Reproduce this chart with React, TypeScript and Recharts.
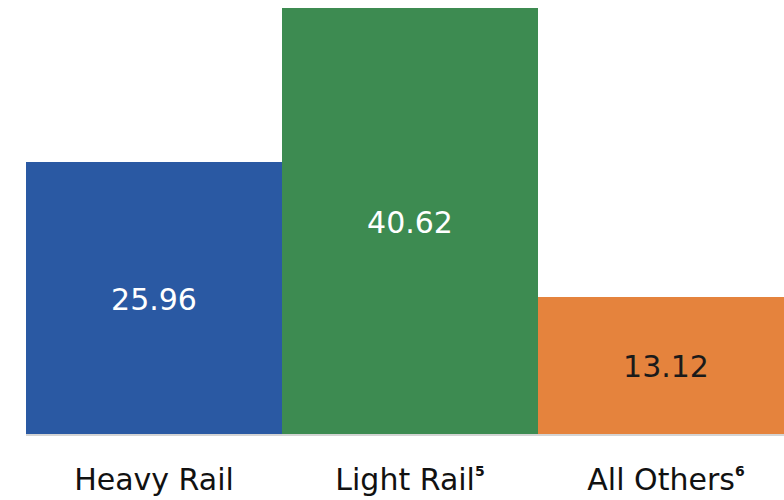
import React from 'react';
import { BarChart, Bar, XAxis, YAxis, Cell, LabelList } from 'recharts';

// categories, values, footnote marks
const categories = ['Heavy Rail', 'Light Rail', 'All Others'];
const footnotes = ['', '5', '6'];
const values = [25.96, 40.62, 13.12];
const barColors = ['#2A59A3', '#3D8B51', '#E5833D'];
const labelColors = ['#ffffff', '#ffffff', '#1a1a1a'];

const chartData = categories.map((name, i) => ({ name, value: values[i] }));

const FONT = '"DejaVu Sans", sans-serif';

const CategoryTick = (props: any) => {
    const { x, y, payload, index } = props;
    const sup = footnotes[index] || '';
    return (
        <text x={x} y={y + 55} textAnchor="middle" fill="#111" fontFamily={FONT} fontSize={30}>
            {payload.value}
            {sup && (
                <tspan fontSize={14} fontWeight="bold" dy={-14}>
                    {sup}
                </tspan>
            )}
        </text>
    );
};

const ValueLabel = (props: any) => {
    const { x, y, width, height, value, index } = props;
    return (
        <text
            x={x + width / 2}
            y={y + height / 2 + 11}
            textAnchor="middle"
            fill={labelColors[index]}
            fontFamily={FONT}
            fontSize={30}
        >
            {value.toFixed(2)}
        </text>
    );
};

export default function App() {
    return (
        <div
            style={{
                position: 'fixed',
                top: 0,
                left: 0,
                width: 784,
                height: 500,
                overflow: 'hidden',
                background: '#fff',
            }}
        >
            <BarChart
                width={794}
                height={500}
                data={chartData}
                margin={{ top: 8, right: 0, left: 26, bottom: 0 }}
                barCategoryGap={0}
            >
                <YAxis hide domain={[0, 40.62]} />
                <XAxis
                    dataKey="name"
                    height={65}
                    tickSize={0}
                    tickMargin={0}
                    tickLine={false}
                    axisLine={{ stroke: '#d4d4d4', strokeWidth: 2 }}
                    tick={<CategoryTick />}
                    interval={0}
                />
                <Bar dataKey="value" isAnimationActive={false}>
                    {chartData.map((d, i) => (
                        <Cell key={d.name} fill={barColors[i]} />
                    ))}
                    <LabelList dataKey="value" content={<ValueLabel />} />
                </Bar>
            </BarChart>
        </div>
    );
}
